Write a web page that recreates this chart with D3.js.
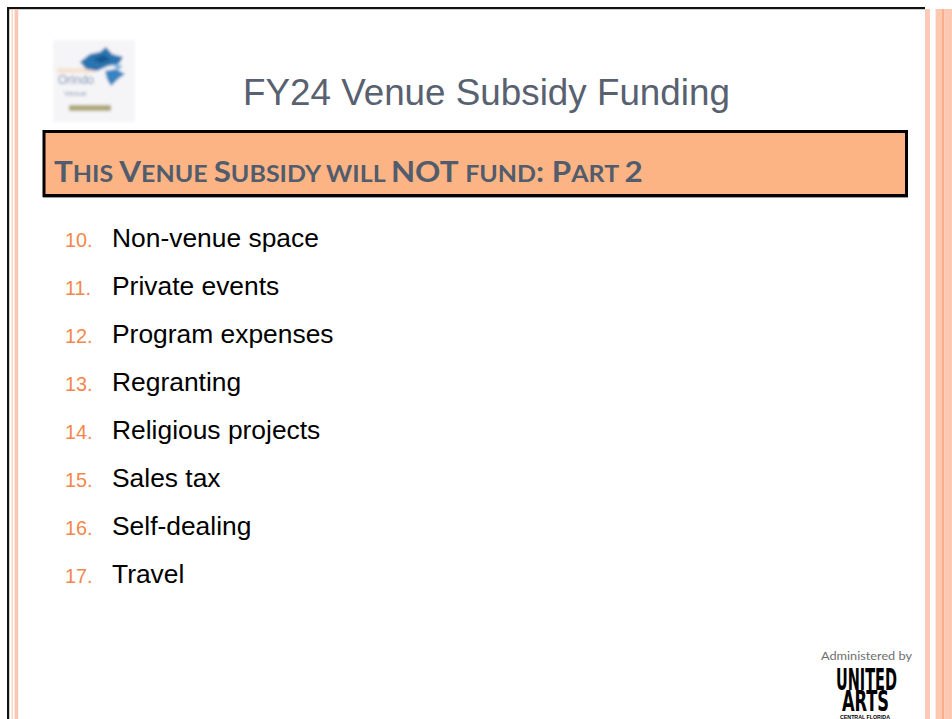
<!DOCTYPE html>
<html>
<head>
<meta charset="utf-8">
<script src="https://cdn.jsdelivr.net/npm/d3@7"></script>
<style>
  html, body { margin: 0; padding: 0; background: #fff; }
  svg { display: block; }
</style>
</head>
<body>
<div id="container"></div>
<script>
var width = 952, height = 719;

// slide content
var slideTitle = "FY24 Venue Subsidy Funding";
var headerText = "This Venue Subsidy will NOT fund: Part 2";
var itemNumbers = [10, 11, 12, 13, 14, 15, 16, 17];
var itemLabels = ["Non-venue space", "Private events", "Program expenses", "Regranting",
                  "Religious projects", "Sales tax", "Self-dealing", "Travel"];
var footerLines = ["Administered by", "UNITED", "ARTS", "CENTRAL FLORIDA"];

var svg = d3.select("#container").append("svg")
  .attr("width", width)
  .attr("height", height);

var defs = svg.append("defs");
defs.append("filter").attr("id", "blur")
  .attr("x", "-20%").attr("y", "-20%").attr("width", "140%").attr("height", "140%")
  .append("feGaussianBlur").attr("stdDeviation", 1.7);

// frame + side stripes
svg.append("rect").attr("x", 7).attr("y", 7).attr("width", 918).attr("height", 2.2).attr("fill", "#111");
svg.append("rect").attr("x", 7).attr("y", 7).attr("width", 2.2).attr("height", height - 7).attr("fill", "#111");
var stripes = [
  {x: 11.5, w: 1.3, c: "#fcd3c3"},
  {x: 14.6, w: 3.6, c: "#fcc7b2"},
  {x: 925, w: 5, c: "#fccab6"},
  {x: 935.6, w: 6.2, c: "#fcc8b2"},
  {x: 941.8, w: 2.4, c: "#fdae88"},
  {x: 944.2, w: 7.8, c: "#fcc8b2"}
];
svg.selectAll("rect.stripe").data(stripes).enter().append("rect")
  .attr("class", "stripe")
  .attr("x", d => d.x).attr("y", 9)
  .attr("width", d => d.w).attr("height", height - 9)
  .attr("fill", d => d.c);

// top-left logo (blurry image in the original)
var logo = svg.append("g").attr("filter", "url(#blur)");
logo.append("rect").attr("x", 53).attr("y", 40).attr("width", 82).attr("height", 82).attr("fill", "#f5f5f7");
logo.append("rect").attr("x", 57).attr("y", 68).attr("width", 38).attr("height", 5).attr("fill", "#f6e2d0");
logo.append("path").attr("d", "M80,62 L90,54 L100,52 L106,47 L112,54 L123,57 L119,64 L108,66 L97,71 L86,69 Z").attr("fill", "#2a74b0");
logo.append("path").attr("d", "M93,59 L104,55 L111,60 L100,63 Z").attr("fill", "#15568f");
logo.append("path").attr("d", "M105,71 L116,69 L125,74 L118,79 L111,86 L107,79 Z").attr("fill", "#3784c0");
logo.append("path").attr("d", "M112,64 L123,66 L118,70 Z").attr("fill", "#6aacd8");
logo.append("text").attr("x", 58).attr("y", 84).attr("font-family", "Liberation Sans").attr("font-size", 12)
  .attr("fill", "#7489ae").text("Orlndo");
logo.append("text").attr("x", 64).attr("y", 96).attr("font-family", "Liberation Sans").attr("font-size", 8)
  .attr("fill", "#8596b0").text("Venue");
logo.append("rect").attr("x", 69).attr("y", 105).attr("width", 42).attr("height", 6).attr("fill", "#aea878");

// title
var title = svg.append("text")
  .attr("x", 243).attr("y", 105)
  .attr("font-family", "Liberation Sans, Arial, sans-serif")
  .attr("font-size", 37)
  .attr("fill", "#58616f")
  .text(slideTitle);
var tw = title.node().getComputedTextLength();
title.attr("font-size", 37 * 487 / tw);

// header box
svg.append("line").attr("x1", 43).attr("x2", 908).attr("y1", 197.5).attr("y2", 197.5)
  .attr("stroke", "#9a9a9a").attr("stroke-width", 1);
svg.append("rect")
  .attr("x", 44).attr("y", 131.5).attr("width", 862.5).attr("height", 64)
  .attr("fill", "#fcb485").attr("stroke", "#000").attr("stroke-width", 3);

// header in small caps: build runs of big/small letters
var runs = [];
headerText.split("").forEach(function(ch){
  var small = ch !== ch.toUpperCase();
  var last = runs[runs.length - 1];
  if (ch === " " && last) { last.t += ch; return; }
  if (last && last.small === small) last.t += ch;
  else runs.push({t: ch, small: small});
});
var header = svg.append("text")
  .attr("x", 54).attr("y", 182)
  .attr("font-family", "Lato, 'Open Sans', sans-serif")
  .attr("font-weight", "bold")
  .attr("fill", "#515c6c")
  .attr("xml:space", "preserve")
  .style("white-space", "pre");
header.selectAll("tspan").data(runs).enter().append("tspan")
  .attr("font-size", d => d.small ? 23.5 : 29.5)
  .text(d => d.t.toUpperCase());
var hw = header.node().getComputedTextLength();
header.attr("transform", "translate(54,0) scale(" + (589 / hw) + ",1) translate(-54,0)");

// list items
var yItem = d3.scaleLinear().domain([0, itemNumbers.length - 1]).range([247, 583]);
var items = svg.selectAll("g.item").data(itemLabels).enter().append("g").attr("class", "item");
items.append("text")
  .attr("x", 65).attr("y", (d, i) => yItem(i))
  .attr("font-family", "Liberation Sans, Arial, sans-serif")
  .attr("font-size", 19.8)
  .attr("fill", "#f4874a")
  .text((d, i) => itemNumbers[i] + ".");
items.append("text")
  .attr("x", 112).attr("y", (d, i) => yItem(i))
  .attr("font-family", "Liberation Sans, Arial, sans-serif")
  .attr("font-size", 26.4)
  .attr("fill", "#000")
  .text(d => d);

// footer logo
var foot = svg.append("g");
foot.append("text").attr("x", 821).attr("y", 660)
  .attr("font-family", "Lato, 'Open Sans', sans-serif").attr("font-size", 11.5)
  .attr("fill", "#6e6e6e").attr("textLength", 91).attr("lengthAdjust", "spacingAndGlyphs")
  .text(footerLines[0]);
foot.append("text").attr("x", 836).attr("y", 690)
  .attr("font-family", "'DejaVu Sans Condensed', 'Liberation Sans Narrow', sans-serif")
  .attr("font-weight", "bold").attr("font-size", 30)
  .attr("fill", "#000").attr("textLength", 61).attr("lengthAdjust", "spacingAndGlyphs")
  .text(footerLines[1]);
foot.append("text").attr("x", 842).attr("y", 711)
  .attr("font-family", "'DejaVu Sans Condensed', 'Liberation Sans Narrow', sans-serif")
  .attr("font-weight", "bold").attr("font-size", 28)
  .attr("fill", "#000").attr("textLength", 47).attr("lengthAdjust", "spacingAndGlyphs")
  .text(footerLines[2]);
foot.append("text").attr("x", 840).attr("y", 718.5)
  .attr("font-family", "'Liberation Sans', sans-serif")
  .attr("font-weight", "bold").attr("font-size", 5.5)
  .attr("fill", "#000").attr("textLength", 50).attr("lengthAdjust", "spacingAndGlyphs")
  .text(footerLines[3]);
</script>
</body>
</html>
